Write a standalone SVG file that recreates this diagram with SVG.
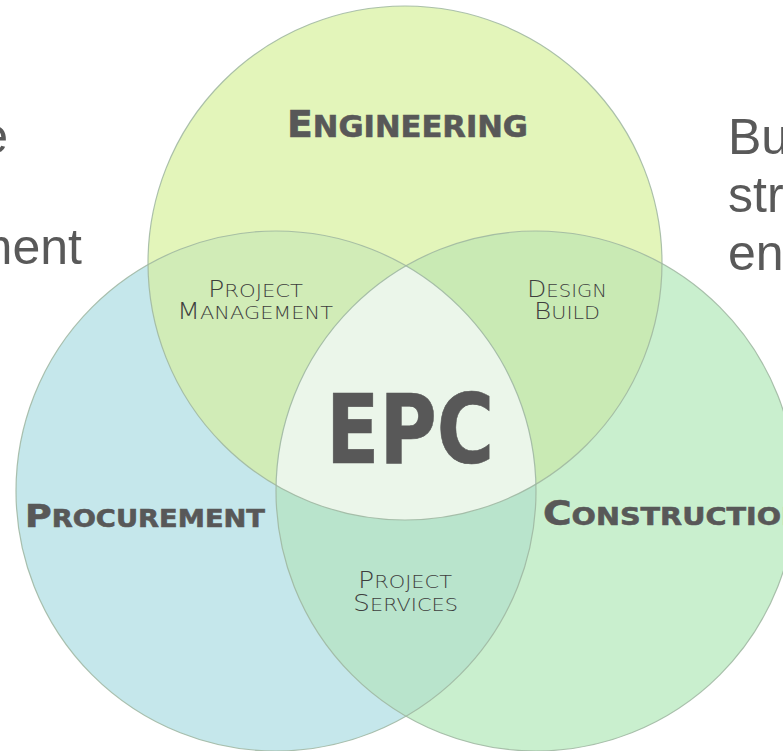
<svg xmlns="http://www.w3.org/2000/svg" width="783" height="751" viewBox="0 0 783 751">
  <style>
    .side { font-family: "Liberation Sans", Arial, sans-serif; font-size: 50px; fill: #595959; }
    .big { font-family: "DejaVu Sans", "Liberation Sans", sans-serif; font-weight: bold; fill: #585858; stroke: #585858; stroke-width: 0.6; }
    .small { font-family: "DejaVu Sans", "Liberation Sans", sans-serif; font-weight: 200; fill: #3e3e3e; }
    .edge { fill: none; stroke: #9db5a0; stroke-width: 1.2; stroke-opacity: 0.85; }
  </style>
  <defs>
    <clipPath id="clipP"><circle cx="276" cy="491" r="260"/></clipPath>
    <clipPath id="clipC"><circle cx="536" cy="491" r="260"/></clipPath>
  </defs>
  <rect width="783" height="751" fill="#ffffff"/>

  <g id="side-text">
    <text class="side" x="8" y="153" text-anchor="end">e</text>
    <text class="side" x="82" y="264" text-anchor="end">ment</text>
    <text class="side" x="728" y="154">Bu</text>
    <text class="side" x="728" y="212">str</text>
    <text class="side" x="728" y="270">en</text>
  </g>

  <g id="node-procurement">
    <circle cx="276" cy="491" r="260" fill="#c5e7eb"/>
  </g>
  <g id="node-construction">
    <circle cx="536" cy="491" r="260" fill="#c9efce"/>
  </g>
  <g id="node-engineering">
    <circle cx="405" cy="263" r="257" fill="#e3f5ba"/>
  </g>
  <g id="overlap-project-management">
    <circle cx="405" cy="263" r="257" fill="#d1ecb7" clip-path="url(#clipP)"/>
  </g>
  <g id="overlap-design-build">
    <circle cx="405" cy="263" r="257" fill="#c9eab4" clip-path="url(#clipC)"/>
  </g>
  <g id="overlap-project-services">
    <circle cx="276" cy="491" r="260" fill="#b9e4cc" clip-path="url(#clipC)"/>
  </g>
  <g id="overlap-epc" clip-path="url(#clipP)">
    <circle cx="405" cy="263" r="257" fill="#ebf6ea" clip-path="url(#clipC)"/>
  </g>
  <g id="outlines">
    <circle class="edge" cx="276" cy="491" r="260"/>
    <circle class="edge" cx="536" cy="491" r="260"/>
    <circle class="edge" cx="405" cy="263" r="257"/>
  </g>

  <g id="labels">
    <text class="big" x="287" y="137" textLength="241" lengthAdjust="spacingAndGlyphs"><tspan font-size="37">E</tspan><tspan font-size="30">NGINEERING</tspan></text>
    <text class="big" x="25" y="527" textLength="240" lengthAdjust="spacingAndGlyphs"><tspan font-size="32">P</tspan><tspan font-size="24">ROCUREMENT</tspan></text>
    <text class="big" x="543" y="525" textLength="262" lengthAdjust="spacingAndGlyphs"><tspan font-size="34">C</tspan><tspan font-size="25">ONSTRUCTION</tspan></text>
    <text class="big" x="326" y="463" font-size="96" textLength="168" lengthAdjust="spacingAndGlyphs">EPC</text>

    <text class="small" x="208" y="297" textLength="95" lengthAdjust="spacingAndGlyphs"><tspan font-size="23">P</tspan><tspan font-size="18">ROJECT</tspan></text>
    <text class="small" x="177" y="319" textLength="156" lengthAdjust="spacingAndGlyphs"><tspan font-size="23">M</tspan><tspan font-size="18">ANAGEMENT</tspan></text>
    <text class="small" x="527" y="297" textLength="80" lengthAdjust="spacingAndGlyphs"><tspan font-size="23">D</tspan><tspan font-size="18">ESIGN</tspan></text>
    <text class="small" x="534" y="319" textLength="66" lengthAdjust="spacingAndGlyphs"><tspan font-size="23">B</tspan><tspan font-size="18">UILD</tspan></text>
    <text class="small" x="358" y="588" textLength="94" lengthAdjust="spacingAndGlyphs"><tspan font-size="23">P</tspan><tspan font-size="18">ROJECT</tspan></text>
    <text class="small" x="353" y="611" textLength="105" lengthAdjust="spacingAndGlyphs"><tspan font-size="23">S</tspan><tspan font-size="18">ERVICES</tspan></text>
  </g>
</svg>
